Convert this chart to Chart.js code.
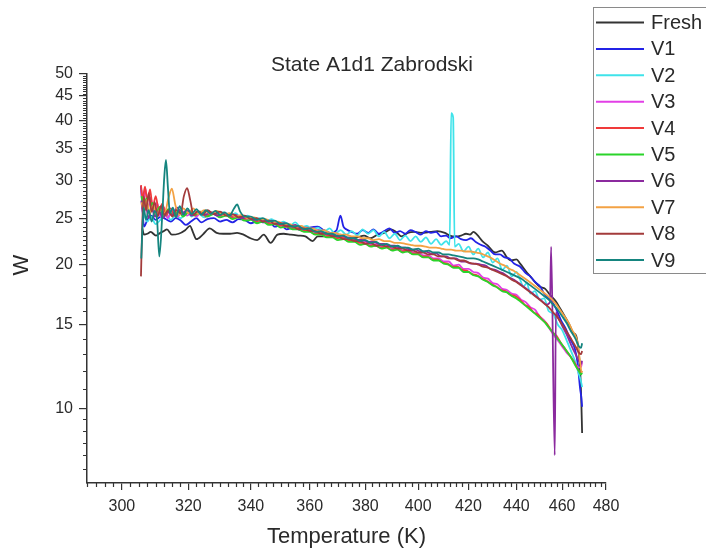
<!DOCTYPE html>
<html><head><meta charset="utf-8">
<script src="https://cdn.jsdelivr.net/npm/chart.js@4.4.1/dist/chart.umd.min.js"></script>
<style>html,body{margin:0;padding:0;background:#fff;}</style>
</head><body>
<canvas id="c" width="706" height="550"></canvas>
<script>
const chartTitle = 'State A1d1 Zabrodski';
const xTitle = 'Temperature (K)';
const yTitle = 'W';
const seriesNames = ['Fresh','V1','V2','V3','V4','V5','V6','V7','V8','V9'];
const seriesColors = ['#333333','#2323e6','#3fe3ea','#e23fe6','#f03a3a','#2ad42a','#8b2a9e','#f3a244','#a33b3b','#15857f'];
const xTickValues = [300,320,340,360,380,400,420,440,460,480];
const yTickValues = [10,15,20,25,30,35,40,45,50];

const fresh = [[306.0,23.8],[306.5,23.1],[307.5,23.2],[308.5,23.4],[310.1,23.0],[311.4,23.3],[312.5,23.5],[313.4,23.7],[314.9,23.1],[317.0,23.2],[319.0,23.6],[320.5,24.1],[321.5,23.3],[322.5,22.6],[324.5,23.1],[326.7,23.8],[328.9,23.3],[331.0,23.2],[333.2,23.2],[335.5,23.3],[337.6,23.1],[339.9,22.7],[342.1,22.5],[344.3,23.1],[346.6,22.2],[348.9,23.1],[351.0,23.2],[353.5,23.1],[356.0,23.0],[358.5,22.9],[361.0,22.4],[362.8,22.9],[365.0,22.9],[367.5,23.0],[370.0,22.9],[372.5,22.6],[374.9,22.7],[377.0,22.8],[379.5,23.0],[382.0,22.7],[384.5,23.1],[387.0,23.3],[389.5,23.7],[391.5,23.4],[393.6,22.9],[396.0,23.3],[398.5,23.4],[401.0,23.3],[404.7,23.4],[407.5,23.5],[410.5,23.3],[412.5,23.0],[414.8,22.9],[417.0,23.0],[419.0,23.2],[420.6,23.1],[422.0,23.4],[423.5,23.1],[425.7,22.4],[428.0,21.9],[431.0,21.2],[433.8,21.4],[436.0,20.7],[437.9,20.4],[440.0,20.5],[441.6,20.1],[444.0,19.4],[446.0,18.9],[448.0,18.4],[450.0,18.0],[452.5,17.8],[454.6,17.3],[457.0,16.8],[459.1,16.2],[461.5,15.5],[463.5,14.9],[465.0,14.4],[466.3,14.2],[467.3,13.3],[468.1,12.0],[468.6,10.5],[469.0,8.9]];

const v1 = [[305.6,29.2],[306.0,26.5],[306.5,24.0],[307.5,24.8],[308.6,25.3],[310.0,24.8],[311.6,25.2],[313.0,24.9],[314.6,24.6],[316.1,25.0],[317.7,24.7],[319.2,24.2],[320.8,24.6],[322.5,25.0],[324.0,24.5],[326.0,24.9],[328.0,25.0],[330.0,24.6],[332.0,24.8],[334.0,24.5],[336.0,24.9],[338.0,24.8],[340.0,24.4],[342.0,24.6],[344.0,24.5],[346.0,24.7],[348.0,24.0],[350.0,24.2],[352.0,23.7],[354.5,23.9],[357.0,23.6],[360.0,23.9],[362.8,24.0],[365.0,23.6],[367.4,23.3],[369.5,23.6],[370.9,25.3],[372.0,24.0],[373.0,23.7],[375.0,23.4],[377.0,23.2],[379.0,23.6],[381.0,23.3],[383.0,23.7],[385.0,23.2],[387.0,23.5],[389.0,23.8],[391.0,23.3],[393.0,23.5],[395.0,23.2],[397.0,23.6],[399.0,23.4],[401.0,23.1],[403.0,23.5],[405.0,23.3],[407.0,23.4],[409.0,22.9],[411.0,23.0],[412.6,22.7],[415.0,22.9],[417.0,22.6],[419.0,22.5],[421.0,22.7],[423.0,22.3],[425.0,22.0],[427.0,21.8],[429.0,21.4],[431.0,21.0],[433.0,21.0],[435.0,20.7],[437.0,20.6],[439.0,20.1],[441.6,19.8],[444.0,19.2],[446.0,18.9],[448.0,18.4],[450.3,18.0],[452.0,17.4],[454.0,17.0],[456.0,16.6],[458.0,15.9],[459.5,15.3],[461.6,14.7],[463.5,14.0],[465.8,13.3],[467.0,12.4],[468.1,11.0],[468.6,10.6],[469.0,10.1]];

const v2 = [[305.8,27.0],[306.5,25.5],[307.5,24.6],[308.6,25.2],[310.0,24.3],[311.6,24.9],[313.0,25.6],[314.6,24.8],[316.0,25.3],[317.7,25.0],[319.5,25.8],[321.0,25.2],[323.0,25.6],[325.0,25.1],[327.0,25.7],[329.0,25.4],[331.0,25.7],[333.0,25.2],[335.0,25.6],[337.0,25.0],[339.0,25.3],[341.0,24.8],[343.0,25.0],[345.0,24.6],[347.0,24.9],[349.0,24.3],[351.0,24.6],[353.0,24.1],[355.0,24.5],[357.0,23.9],[359.0,24.1],[361.0,23.6],[363.0,23.9],[365.0,23.4],[367.0,23.8],[369.0,23.2],[371.0,23.6],[373.0,23.1],[375.0,23.5],[377.0,23.0],[379.0,23.7],[381.0,23.2],[383.0,23.6],[385.0,22.9],[387.0,23.4],[389.0,22.7],[391.0,23.2],[393.0,22.5],[395.0,23.0],[397.0,22.4],[399.0,22.9],[401.0,22.3],[403.0,22.8],[405.0,22.1],[407.0,22.6],[409.0,22.0],[411.0,22.4],[412.4,22.0],[413.0,41.4],[413.8,40.6],[414.4,21.8],[416.0,22.1],[418.0,21.3],[420.0,21.8],[422.0,21.0],[424.0,21.6],[426.0,20.7],[428.0,21.2],[430.0,20.2],[432.0,20.6],[434.0,19.5],[436.0,19.9],[438.0,18.9],[440.0,19.3],[441.6,18.6],[443.0,18.0],[444.5,18.3],[446.0,17.4],[448.0,17.6],[450.0,16.9],[452.0,17.0],[454.0,16.0],[456.0,15.8],[458.0,15.0],[460.0,14.6],[462.0,13.9],[464.0,13.2],[466.0,12.5],[467.3,11.9],[468.3,11.5],[469.0,11.1]];

const v3 = [[305.7,28.6],[306.2,26.8],[306.9,28.9],[307.7,26.2],[308.5,27.6],[309.4,25.7],[310.4,26.9],[311.5,25.2],[312.5,26.3],[313.6,25.0],[315.0,26.0],[316.5,25.1],[318.0,25.9],[319.6,25.3],[321.0,25.8],[322.5,25.2],[324.0,25.7],[326.0,25.3],[328.0,25.6],[330.0,25.2],[332.0,25.5],[334.0,25.0],[336.0,25.2],[338.0,24.8],[340.0,25.0],[342.0,24.6],[344.0,24.8],[346.0,24.4],[348.0,24.5],[350.0,24.1],[352.0,24.2],[354.0,23.9],[356.0,23.9],[358.0,23.6],[360.0,23.7],[362.0,23.3],[364.0,23.4],[366.0,23.0],[368.0,23.1],[370.0,22.8],[372.0,22.9],[374.0,22.5],[376.0,22.6],[378.0,22.3],[380.0,22.3],[382.0,22.0],[384.0,22.1],[386.0,21.8],[388.0,21.9],[390.0,21.6],[392.0,21.7],[394.0,21.4],[396.0,21.5],[398.0,21.2],[400.0,21.2],[402.0,20.9],[404.0,20.9],[406.0,20.6],[408.0,20.6],[410.0,20.3],[412.0,20.3],[414.0,19.9],[416.0,20.0],[418.0,19.6],[420.0,19.6],[422.0,19.3],[424.0,19.2],[426.0,18.8],[428.0,18.7],[430.0,18.3],[432.0,18.2],[434.0,17.8],[436.0,17.7],[438.0,17.4],[440.0,17.3],[442.0,16.9],[444.0,16.7],[446.0,16.3],[448.0,16.1],[450.0,15.6],[452.0,15.3],[454.0,14.8],[456.0,14.3],[458.0,13.9],[460.0,13.5],[462.0,13.1],[464.0,12.8],[466.0,12.4],[467.5,12.2],[468.4,12.2],[469.0,12.5]];

const v4 = [[305.6,29.3],[306.1,27.4],[306.8,29.1],[307.5,27.0],[308.3,28.7],[309.1,26.3],[310.0,27.8],[311.0,25.8],[312.0,26.8],[313.1,25.3],[314.4,26.2],[315.8,25.3],[317.3,26.0],[318.8,25.4],[320.5,25.9],[322.0,25.3],[323.8,25.8],[325.5,25.2],[327.5,25.7],[329.5,25.3],[331.5,25.5],[333.5,25.1],[335.5,25.3],[337.5,24.9],[339.5,25.0],[341.5,24.6],[343.5,24.8],[345.5,24.4],[347.5,24.5],[349.5,24.1],[351.5,24.2],[353.5,23.8],[355.5,23.9],[357.5,23.5],[359.5,23.6],[361.5,23.2],[363.5,23.3],[365.5,22.9],[367.5,23.0],[369.5,22.7],[371.5,22.8],[373.5,22.4],[375.5,22.5],[377.5,22.2],[379.5,22.2],[381.5,21.9],[383.5,22.0],[385.5,21.7],[387.5,21.8],[389.5,21.5],[391.5,21.6],[393.5,21.3],[395.5,21.4],[397.5,21.1],[399.5,21.1],[401.5,20.8],[403.5,20.8],[405.5,20.5],[407.5,20.5],[409.5,20.2],[411.5,20.1],[413.5,19.8],[415.5,19.8],[417.5,19.5],[419.5,19.4],[421.5,19.1],[423.5,19.0],[425.5,18.7],[427.5,18.5],[429.5,18.2],[431.5,18.0],[433.5,17.7],[435.5,17.6],[437.5,17.3],[439.5,17.2],[441.5,16.9],[443.5,16.5],[445.5,16.3],[447.5,15.9],[449.5,15.7],[451.5,15.3],[453.5,15.0],[455.5,14.5],[457.5,14.2],[459.5,13.7],[461.5,13.3],[463.5,12.9],[465.5,12.5],[467.0,12.1],[468.2,11.9],[469.0,12.0]];

const v5 = [[305.8,27.8],[306.4,26.0],[307.2,27.5],[308.0,25.6],[309.0,26.9],[310.0,25.4],[311.2,26.4],[312.4,25.2],[313.8,26.1],[315.2,25.3],[316.8,25.9],[318.4,25.2],[320.0,25.7],[322.0,25.4],[324.0,25.8],[326.0,25.2],[328.0,25.5],[330.0,25.1],[332.0,25.3],[334.0,24.9],[336.0,25.1],[338.0,24.7],[340.0,24.8],[342.0,24.4],[344.0,24.6],[346.0,24.2],[348.0,24.3],[350.0,23.9],[352.0,24.0],[354.0,23.7],[356.0,23.7],[358.0,23.4],[360.0,23.4],[362.0,23.1],[364.0,23.1],[366.0,22.8],[368.0,22.8],[370.0,22.5],[372.0,22.6],[374.0,22.3],[376.0,22.3],[378.0,22.0],[380.0,22.1],[382.0,21.8],[384.0,21.9],[386.0,21.6],[388.0,21.7],[390.0,21.4],[392.0,21.5],[394.0,21.2],[396.0,21.3],[398.0,21.0],[400.0,21.0],[402.0,20.7],[404.0,20.7],[406.0,20.4],[408.0,20.4],[410.0,20.1],[412.0,20.0],[414.0,19.7],[416.0,19.7],[418.0,19.3],[420.0,19.3],[422.0,19.0],[424.0,18.9],[426.0,18.6],[428.0,18.4],[430.0,18.1],[432.0,17.9],[434.0,17.6],[436.0,17.5],[438.0,17.2],[440.0,17.0],[442.0,16.7],[444.0,16.4],[446.0,16.1],[448.0,15.8],[450.0,15.5],[452.0,15.2],[454.0,14.8],[456.0,14.4],[458.0,14.0],[460.0,13.6],[462.0,13.2],[464.0,12.8],[466.0,12.3],[467.5,12.0],[468.5,11.8],[469.0,11.9]];

const v6 = [[305.7,27.2],[306.3,25.4],[307.0,26.6],[307.9,25.0],[308.8,26.2],[309.8,25.2],[311.0,25.9],[312.2,25.0],[313.5,25.8],[315.0,25.4],[316.5,26.3],[318.0,25.5],[319.5,26.0],[321.0,25.3],[323.0,25.8],[325.0,25.4],[327.0,25.7],[329.0,25.3],[331.0,25.6],[333.0,25.3],[335.0,25.4],[337.0,25.0],[339.0,25.2],[341.0,24.8],[343.0,24.9],[345.0,24.6],[347.0,24.7],[349.0,24.3],[351.0,24.4],[353.0,24.1],[355.0,24.2],[357.0,23.8],[359.0,23.9],[361.0,23.5],[363.0,23.6],[365.0,23.3],[367.0,23.3],[369.0,23.0],[371.0,23.1],[373.0,22.8],[375.0,22.8],[377.0,22.5],[379.0,22.6],[381.0,22.3],[383.0,22.4],[385.0,22.1],[387.0,22.1],[389.0,21.9],[391.0,21.9],[393.0,21.7],[395.0,21.7],[397.0,21.5],[399.0,21.5],[401.0,21.3],[403.0,21.3],[405.0,21.1],[407.0,21.1],[409.0,20.8],[411.0,20.8],[413.0,20.6],[415.0,20.6],[417.0,20.3],[419.0,20.3],[421.0,20.1],[423.0,20.1],[425.0,20.0],[427.0,19.9],[429.0,19.6],[431.0,19.5],[433.0,19.3],[435.0,19.1],[437.0,18.8],[439.0,18.6],[441.0,18.3],[443.0,18.0],[445.0,17.7],[447.0,17.4],[449.0,17.1],[451.0,16.8],[453.0,16.5],[454.6,16.7],[455.1,21.8],[456.7,8.0],[457.2,15.9],[458.5,15.4],[460.0,14.9],[462.0,14.3],[464.0,13.6],[466.0,13.0],[467.5,12.6],[468.5,12.4],[469.0,12.6]];

const v7 = [[305.8,27.0],[306.5,25.8],[307.3,27.3],[308.2,25.5],[309.2,26.6],[310.3,25.4],[311.5,26.2],[312.7,25.6],[313.8,27.4],[314.9,28.8],[316.0,26.6],[317.2,25.4],[318.5,26.2],[320.0,25.6],[321.5,26.2],[323.0,25.5],[325.0,26.0],[327.0,25.5],[329.0,25.9],[331.0,25.4],[333.0,25.6],[335.0,25.2],[337.0,25.4],[339.0,25.0],[341.0,25.1],[343.0,24.8],[345.0,24.9],[347.0,24.5],[349.0,24.6],[351.0,24.3],[353.0,24.3],[355.0,24.0],[357.0,24.1],[359.0,23.8],[361.0,23.8],[363.0,23.5],[365.0,23.6],[367.0,23.3],[369.0,23.3],[371.0,23.1],[373.0,23.1],[375.0,22.9],[377.0,22.9],[379.0,22.7],[381.0,22.7],[383.0,22.5],[385.0,22.6],[387.0,22.4],[389.0,22.4],[391.0,22.2],[393.0,22.2],[395.0,22.1],[397.0,22.0],[399.0,21.9],[401.0,21.9],[403.0,21.8],[405.0,21.7],[407.0,21.7],[409.0,21.6],[411.0,21.5],[413.0,21.5],[415.0,21.4],[417.0,21.4],[419.0,21.3],[421.0,21.3],[423.0,21.2],[425.0,21.1],[427.0,20.9],[429.0,20.7],[431.0,20.4],[433.0,20.1],[435.0,19.9],[437.0,19.6],[439.0,19.4],[441.0,19.1],[443.0,18.8],[445.0,18.5],[447.0,18.2],[449.0,17.9],[451.0,17.6],[453.0,17.3],[455.0,17.0],[457.0,16.6],[459.0,16.1],[461.0,15.6],[463.0,15.1],[464.5,14.6],[466.0,14.2],[467.0,13.7],[468.0,12.6],[468.6,12.0],[469.0,11.9]];

const v8 = [[305.6,18.9],[306.0,24.5],[306.4,27.8],[307.1,26.0],[307.9,28.2],[308.8,25.8],[309.7,27.0],[310.6,25.2],[311.6,26.5],[312.6,25.4],[313.8,26.0],[315.0,25.2],[316.3,26.0],[317.6,25.6],[318.6,27.8],[319.6,28.9],[320.6,27.2],[321.6,25.4],[323.0,25.9],[324.5,25.4],[326.0,26.0],[328.0,25.5],[330.0,25.8],[332.0,25.3],[334.0,25.5],[336.0,25.1],[338.0,25.3],[340.0,24.9],[342.0,25.0],[344.0,24.6],[346.0,24.7],[348.0,24.3],[350.0,24.4],[352.0,24.0],[354.0,24.1],[356.0,23.7],[358.0,23.8],[360.0,23.5],[362.0,23.5],[364.0,23.2],[366.0,23.2],[368.0,22.9],[370.0,22.9],[372.0,22.6],[374.0,22.6],[376.0,22.4],[378.0,22.4],[380.0,22.1],[382.0,22.2],[384.0,21.9],[386.0,22.0],[388.0,21.8],[390.0,21.8],[392.0,21.6],[394.0,21.6],[396.0,21.4],[398.0,21.4],[400.0,21.2],[402.0,21.2],[404.0,21.0],[406.0,21.0],[408.0,20.8],[410.0,20.8],[412.0,20.6],[414.0,20.6],[416.0,20.4],[418.0,20.4],[420.0,20.2],[422.0,20.1],[424.0,20.0],[426.0,19.8],[428.0,19.7],[430.0,19.5],[432.0,19.3],[434.0,19.1],[436.0,18.9],[438.0,18.6],[440.0,18.4],[442.0,18.1],[444.0,17.8],[446.0,17.5],[448.0,17.2],[450.0,16.9],[452.0,16.6],[454.0,16.3],[456.0,15.9],[458.0,15.5],[460.0,15.0],[462.0,14.5],[464.0,14.0],[466.0,13.5],[467.5,13.1],[468.5,13.0],[469.0,13.2]];

const v9 = [[305.7,20.6],[306.0,23.5],[306.4,26.3],[307.1,24.8],[307.9,26.0],[308.8,24.6],[309.7,25.9],[310.4,24.9],[311.1,20.8],[312.0,25.5],[312.6,30.5],[313.1,33.1],[313.7,29.0],[314.3,25.6],[315.2,26.3],[316.2,25.1],[317.3,26.5],[318.5,25.4],[319.7,26.2],[321.0,25.5],[322.5,26.1],[324.0,25.4],[325.5,26.0],[327.0,25.5],[328.5,25.9],[330.0,25.4],[331.5,25.7],[333.0,25.3],[334.5,26.2],[335.5,26.7],[336.5,25.8],[338.0,25.2],[340.0,25.2],[342.0,24.8],[344.0,25.0],[346.0,24.6],[348.0,24.7],[350.0,24.3],[352.0,24.4],[354.0,24.0],[356.0,24.1],[358.0,23.7],[360.0,23.8],[362.0,23.4],[364.0,23.5],[366.0,23.2],[368.0,23.2],[370.0,22.9],[372.0,23.0],[374.0,22.7],[376.0,22.7],[378.0,22.4],[380.0,22.5],[382.0,22.2],[384.0,22.3],[386.0,22.0],[388.0,22.1],[390.0,21.8],[392.0,21.9],[394.0,21.7],[396.0,21.7],[398.0,21.5],[400.0,21.6],[402.0,21.3],[404.0,21.4],[406.0,21.2],[408.0,21.2],[410.0,21.0],[412.0,21.0],[414.0,20.9],[416.0,20.8],[418.0,20.7],[420.0,20.6],[422.0,20.6],[424.0,20.5],[426.0,20.3],[428.0,20.1],[430.0,19.9],[432.0,19.7],[434.0,19.5],[436.0,19.3],[438.0,19.1],[440.0,18.9],[442.0,18.7],[444.0,18.4],[446.0,18.1],[448.0,17.8],[450.0,17.5],[452.0,17.2],[454.0,16.9],[456.0,16.5],[458.0,16.1],[460.0,15.6],[462.0,15.1],[464.0,14.5],[466.0,14.0],[467.5,13.5],[468.5,13.4],[469.0,13.7]];

const seriesData = [fresh, v1, v2, v3, v4, v5, v6, v7, v8, v9];

const AXIS = '#333333';
const TEXT = '#2a2a2a';
const FONT = "'Liberation Sans', Arial, sans-serif";

// minor tick positions (axis decoration only)
const xMinor = [];
for (let v = 290; v <= 480.001; v += 2.5) if (Math.abs(v % 20) > 0.01) xMinor.push(v);
const yMinor = [];
for (let v = 7.5; v < 10; v += 0.5) yMinor.push(v);
for (let v = 11; v < 20; v += 1) if (v !== 15) yMinor.push(v);
for (let v = 20.5; v < 50; v += 0.5) if (Math.abs(v % 5) > 0.01) yMinor.push(v);

const decor = {
  id: 'decor',
  afterDraw(chart) {
    const {ctx, chartArea: a} = chart;
    const x = chart.scales.x, y = chart.scales.y;
    ctx.save();
    ctx.strokeStyle = AXIS;
    ctx.lineWidth = 1.2;
    ctx.beginPath();
    xMinor.forEach(v => {
      const px = Math.round(x.getPixelForValue(v)) + 0.5;
      ctx.moveTo(px, a.bottom); ctx.lineTo(px, a.bottom + 4);
    });
    yMinor.forEach(v => {
      const py = Math.round(y.getPixelForValue(v)) + 0.5;
      ctx.moveTo(a.left, py); ctx.lineTo(a.left - 4, py);
    });
    ctx.stroke();

    ctx.fillStyle = TEXT;
    ctx.textAlign = 'center';
    ctx.textBaseline = 'middle';
    ctx.font = '21px ' + FONT;
    ctx.fillText(chartTitle, 372, 65);
    ctx.font = '22px ' + FONT;
    ctx.fillText(xTitle, (a.left + a.right) / 2, 537);
    ctx.save();
    ctx.translate(22, 265);
    ctx.rotate(-Math.PI / 2);
    ctx.fillText(yTitle, 0, 0);
    ctx.restore();

    // legend box
    ctx.strokeStyle = '#8a8a8a';
    ctx.lineWidth = 1;
    ctx.strokeRect(593.5, 7.5, 130, 266);
    ctx.font = '20px ' + FONT;
    ctx.textAlign = 'left';
    seriesNames.forEach((name, i) => {
      const yy = 22.5 + i * 26.4;
      ctx.strokeStyle = seriesColors[i];
      ctx.lineWidth = 2;
      ctx.beginPath();
      ctx.moveTo(596, yy); ctx.lineTo(644, yy);
      ctx.stroke();
      ctx.fillStyle = TEXT;
      ctx.fillText(name, 651, yy + 1);
    });
    ctx.restore();
  }
};

const datasets = seriesData.map((d, i) => ({
  label: seriesNames[i],
  data: d.map(p => ({x: p[0], y: p[1]})),
  borderColor: seriesColors[i],
  backgroundColor: seriesColors[i],
  borderWidth: 1.8,
  pointRadius: 0,
  fill: false,
  cubicInterpolationMode: 'monotone',
  order: seriesData.length - 1 - i
}));

new Chart(document.getElementById('c'), {
  type: 'line',
  data: {datasets},
  options: {
    responsive: false,
    animation: false,
    events: [],
    layout: {padding: {left: 0, right: 100, top: 74, bottom: 0}},
    plugins: {legend: {display: false}, title: {display: false}, tooltip: {enabled: false}},
    scales: {
      x: {
        type: 'logarithmic',
        min: 290, max: 480,
        afterBuildTicks: s => { s.ticks = xTickValues.map(v => ({value: v})); },
        afterFit: s => { s.height = 67; },
        ticks: {autoSkip: false, maxRotation: 0, padding: 7, color: TEXT,
                font: {family: FONT, size: 16}, callback: v => String(v)},
        grid: {display: true, drawOnChartArea: false, drawTicks: true, tickLength: 7, color: AXIS, lineWidth: 1.2},
        border: {display: true, color: AXIS, width: 1.5}
      },
      y: {
        type: 'logarithmic',
        min: 7, max: 50,
        afterBuildTicks: s => { s.ticks = yTickValues.map(v => ({value: v})); },
        afterFit: s => { s.width = 87; },
        ticks: {autoSkip: false, padding: 6, color: TEXT,
                font: {family: FONT, size: 16}, callback: v => String(v)},
        grid: {display: true, drawOnChartArea: false, drawTicks: true, tickLength: 8, color: AXIS, lineWidth: 1.2},
        border: {display: true, color: AXIS, width: 1.5}
      }
    }
  },
  plugins: [decor]
});
</script>
</body></html>
